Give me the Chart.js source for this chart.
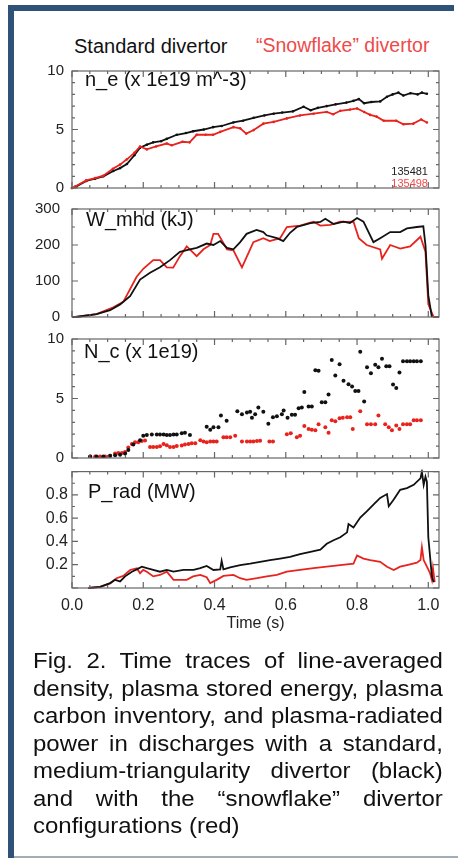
<!DOCTYPE html>
<html>
<head>
<meta charset="utf-8">
<script src="https://cdn.jsdelivr.net/npm/chart.js@4.4.1/dist/chart.umd.min.js"></script>
<style>
  body { margin: 0; background: #fff; width: 458px; height: 858px; overflow: hidden; position: relative;
         font-family: "Liberation Sans", Arial, sans-serif; }
  #barTop { position: absolute; left: 8px; top: 5px; width: 446px; height: 6px; background: #2f5378; }
  #barLeft { position: absolute; left: 8px; top: 5px; width: 6px; height: 853px; background: #2f5378; }
  #barBottom { position: absolute; left: 14px; top: 856px; width: 444px; height: 2px; background: #a3adb8; }
  .txt { position: absolute; white-space: nowrap; line-height: 1; }
  canvas { position: absolute; left: 20px; }
  .cap { position: absolute; left: 33px; width: 376px; font-size: 22px; line-height: 27.5px; color: #111;
         text-align: justify; text-align-last: justify; white-space: nowrap;
         transform: scaleX(1.09); transform-origin: 0 0; }
  .cap.last { text-align-last: left; }
</style>
</head>
<body>
<div id="barTop"></div>
<div id="barLeft"></div>
<div id="barBottom"></div>

<div class="txt" style="left:74px;top:36px;font-size:20px;color:#111">Standard divertor</div>
<div class="txt" style="left:256px;top:36px;font-size:19.5px;color:#ee4a4a">“Snowflake” divertor</div>

<canvas id="ne" width="430" height="151" style="top:54px"></canvas>
<canvas id="wmhd" width="430" height="150" style="top:188px"></canvas>
<canvas id="nc" width="430" height="153" style="top:322px"></canvas>
<canvas id="prad" width="430" height="175" style="top:458px"></canvas>

<div class="txt" style="left:85px;top:69px;font-size:20px;color:#111">n_e (x 1e19 m^-3)</div>
<div class="txt" style="left:86px;top:209px;font-size:20px;color:#111">W_mhd (kJ)</div>
<div class="txt" style="left:84px;top:341px;font-size:20px;color:#111">N_c (x 1e19)</div>
<div class="txt" style="left:88px;top:481px;font-size:20px;color:#111">P_rad (MW)</div>
<div class="txt" style="right:30px;top:166px;font-size:11px;color:#222">135481</div>
<div class="txt" style="right:30px;top:178px;font-size:11px;color:#ee4a4a">135498</div>

<div class="cap" style="top:647px">Fig. 2. Time traces of line-averaged</div>
<div class="cap" style="top:674.5px">density, plasma stored energy, plasma</div>
<div class="cap" style="top:702px">carbon inventory, and plasma-radiated</div>
<div class="cap" style="top:729.5px">power in discharges with a standard,</div>
<div class="cap" style="top:757px">medium-triangularity divertor (black)</div>
<div class="cap" style="top:784.5px">and with the “snowflake” divertor</div>
<div class="cap last" style="top:812px">configurations (red)</div>

<script>
// time axis
const timeTicks = [0, 0.2, 0.4, 0.6, 0.8, 1.0];

// n_e (x 1e19 m^-3)
const neStdTime = [0, 0.01, 0.04, 0.065, 0.088, 0.116, 0.135, 0.154, 0.175, 0.191, 0.21, 0.228, 0.25, 0.266, 0.294, 0.32, 0.34, 0.37, 0.396, 0.42, 0.453, 0.48, 0.51, 0.54, 0.566, 0.59, 0.62, 0.65, 0.67, 0.69, 0.715, 0.74, 0.77, 0.79, 0.805, 0.82, 0.84, 0.865, 0.884, 0.9, 0.916, 0.93, 0.95, 0.97, 0.982, 0.996];
const neStd = [0, 0.1, 0.6, 0.8, 1.0, 1.45, 1.7, 2.05, 2.8, 3.45, 3.7, 3.9, 4.0, 4.2, 4.55, 4.7, 4.85, 5.0, 5.2, 5.3, 5.6, 5.75, 6.0, 6.2, 6.35, 6.45, 6.55, 6.95, 6.65, 6.85, 7.0, 7.15, 7.3, 7.45, 7.6, 7.25, 7.35, 7.4, 7.8, 8.0, 8.15, 7.9, 8.1, 8.0, 8.15, 8.05];
const neSfTime = [0, 0.01, 0.04, 0.065, 0.088, 0.115, 0.135, 0.154, 0.175, 0.191, 0.21, 0.236, 0.266, 0.28, 0.31, 0.33, 0.35, 0.375, 0.396, 0.416, 0.453, 0.472, 0.489, 0.51, 0.537, 0.566, 0.603, 0.64, 0.678, 0.715, 0.733, 0.753, 0.78, 0.8, 0.82, 0.837, 0.855, 0.875, 0.91, 0.93, 0.958, 0.98, 0.996];
const neSf = [0, 0.15, 0.65, 0.85, 1.05, 1.65, 2.0, 2.45, 3.0, 3.55, 3.3, 3.55, 3.8, 3.65, 3.95, 3.9, 4.55, 4.55, 4.55, 4.8, 5.2, 5.1, 4.65, 4.95, 5.5, 5.65, 5.95, 6.2, 6.35, 6.5, 6.3, 6.6, 6.7, 6.8, 6.5, 6.25, 6.1, 5.75, 5.75, 5.45, 5.5, 5.85, 5.6];
const neTicks = [0, 5, 10];

// W_mhd (kJ)
const wStdTime = [0, 0.01, 0.069, 0.107, 0.135, 0.163, 0.191, 0.219, 0.247, 0.275, 0.303, 0.331, 0.35, 0.378, 0.397, 0.416, 0.435, 0.453, 0.472, 0.49, 0.518, 0.537, 0.546, 0.575, 0.593, 0.612, 0.631, 0.669, 0.697, 0.711, 0.734, 0.762, 0.78, 0.8, 0.818, 0.846, 0.865, 0.893, 0.921, 0.94, 0.968, 0.986, 0.992, 1.0, 1.01];
const wStd = [0, 0, 8, 19, 35, 58, 104, 123, 138, 158, 181, 188, 192, 204, 200, 211, 192, 188, 208, 231, 242, 236, 227, 219, 211, 234, 250, 261, 264, 273, 258, 265, 261, 275, 265, 208, 219, 236, 236, 246, 250, 252, 200, 60, 0];
const wSfTime = [0, 0.01, 0.069, 0.116, 0.144, 0.181, 0.2, 0.228, 0.247, 0.266, 0.284, 0.303, 0.322, 0.35, 0.369, 0.388, 0.397, 0.41, 0.435, 0.453, 0.477, 0.509, 0.537, 0.555, 0.584, 0.603, 0.64, 0.678, 0.697, 0.725, 0.753, 0.772, 0.79, 0.805, 0.827, 0.865, 0.87, 0.893, 0.921, 0.949, 0.978, 0.992, 1.0, 1.015, 1.03];
const wSf = [0, 0, 8, 27, 42, 111, 134, 158, 158, 138, 137, 169, 196, 169, 188, 200, 231, 231, 188, 185, 138, 208, 219, 211, 219, 250, 254, 265, 254, 256, 265, 264, 265, 219, 200, 188, 162, 200, 190, 196, 223, 181, 35, 0, 0];
const wTicks = [0, 100, 200, 300];

// N_c (x 1e19), sampled points
const ncStdTime = [0.051, 0.069, 0.088, 0.107, 0.121, 0.135, 0.149, 0.158, 0.172, 0.191, 0.2, 0.21, 0.224, 0.238, 0.247, 0.257, 0.266, 0.275, 0.285, 0.294, 0.308, 0.317, 0.331, 0.378, 0.388, 0.397, 0.411, 0.418, 0.434, 0.464, 0.477, 0.491, 0.5, 0.505, 0.514, 0.523, 0.537, 0.551, 0.564, 0.575, 0.589, 0.594, 0.605, 0.617, 0.626, 0.636, 0.645, 0.652, 0.664, 0.673, 0.683, 0.692, 0.701, 0.711, 0.72, 0.729, 0.739, 0.751, 0.762, 0.776, 0.786, 0.795, 0.804, 0.809, 0.82, 0.828, 0.839, 0.851, 0.86, 0.87, 0.882, 0.891, 0.901, 0.91, 0.919, 0.929, 0.94, 0.949, 0.959, 0.968, 0.979];
const ncStd = [0.13, 0.13, 0.13, 0.18, 0.23, 0.28, 0.38, 0.68, 1.13, 1.5, 1.88, 1.93, 1.98, 1.98, 1.98, 1.98, 1.93, 1.93, 1.98, 1.98, 2.08, 2.13, 1.93, 2.63, 2.38, 2.58, 2.58, 3.58, 3.13, 3.93, 3.68, 3.83, 3.88, 3.38, 3.68, 4.25, 3.88, 2.88, 3.43, 3.5, 3.68, 4.0, 3.38, 3.63, 3.63, 4.18, 4.25, 5.55, 4.33, 4.33, 7.38, 7.33, 4.68, 4.68, 5.33, 8.23, 6.93, 7.88, 6.5, 6.2, 6.0, 5.63, 5.63, 8.93, 4.75, 7.63, 7.13, 7.83, 7.63, 8.33, 7.7, 7.7, 6.18, 5.88, 7.18, 8.13, 8.13, 8.13, 8.13, 8.13, 8.13];
const ncSfTime = [0.051, 0.065, 0.079, 0.093, 0.107, 0.121, 0.13, 0.14, 0.149, 0.158, 0.168, 0.177, 0.186, 0.196, 0.205, 0.219, 0.228, 0.238, 0.247, 0.257, 0.266, 0.275, 0.285, 0.294, 0.308, 0.317, 0.327, 0.336, 0.346, 0.36, 0.369, 0.378, 0.388, 0.397, 0.406, 0.425, 0.434, 0.444, 0.458, 0.477, 0.491, 0.5, 0.509, 0.519, 0.528, 0.554, 0.564, 0.603, 0.614, 0.631, 0.64, 0.652, 0.664, 0.673, 0.683, 0.692, 0.711, 0.72, 0.729, 0.739, 0.751, 0.76, 0.772, 0.781, 0.788, 0.809, 0.828, 0.839, 0.851, 0.86, 0.879, 0.889, 0.898, 0.91, 0.919, 0.929, 0.94, 0.949, 0.959, 0.968, 0.979];
const ncSf = [0.13, 0.13, 0.13, 0.13, 0.18, 0.38, 0.43, 0.43, 0.5, 0.88, 1.18, 1.33, 1.33, 1.43, 1.48, 0.93, 0.93, 0.93, 0.98, 1.18, 1.08, 0.93, 0.93, 1.0, 1.05, 1.13, 1.18, 1.25, 1.25, 1.5, 1.38, 1.33, 1.38, 1.38, 1.38, 1.75, 1.75, 1.75, 1.88, 1.38, 1.38, 1.38, 1.38, 1.43, 1.45, 1.38, 1.38, 2.0, 2.08, 1.75, 1.88, 2.68, 2.43, 2.38, 2.33, 2.83, 2.58, 2.13, 3.18, 3.08, 3.33, 3.38, 3.43, 3.43, 2.43, 3.93, 2.83, 2.83, 2.83, 3.58, 2.83, 2.58, 2.33, 2.73, 2.43, 2.83, 2.83, 2.83, 3.18, 3.18, 3.18];
const ncTicks = [0, 5, 10];

// P_rad (MW)
const pStdTime = [0.046, 0.079, 0.107, 0.121, 0.135, 0.149, 0.168, 0.182, 0.196, 0.21, 0.228, 0.247, 0.266, 0.285, 0.313, 0.341, 0.36, 0.378, 0.397, 0.416, 0.42, 0.425, 0.444, 0.472, 0.5, 0.528, 0.556, 0.584, 0.612, 0.64, 0.669, 0.697, 0.715, 0.734, 0.753, 0.772, 0.776, 0.79, 0.809, 0.828, 0.846, 0.865, 0.884, 0.889, 0.903, 0.921, 0.94, 0.959, 0.978, 0.982, 0.987, 0.992, 0.996, 1.0, 1.01, 1.015];
const pStd = [0, 0.01, 0.042, 0.07, 0.056, 0.1, 0.14, 0.16, 0.183, 0.17, 0.155, 0.14, 0.155, 0.14, 0.155, 0.155, 0.17, 0.19, 0.155, 0.16, 0.233, 0.16, 0.177, 0.197, 0.21, 0.225, 0.24, 0.253, 0.267, 0.29, 0.31, 0.33, 0.38, 0.41, 0.436, 0.478, 0.55, 0.52, 0.605, 0.66, 0.717, 0.774, 0.807, 0.703, 0.76, 0.844, 0.858, 0.886, 0.942, 1.0, 0.886, 0.956, 0.914, 0.436, 0.1, 0.05];
const pSfTime = [0.046, 0.079, 0.107, 0.125, 0.144, 0.163, 0.182, 0.191, 0.2, 0.21, 0.228, 0.247, 0.266, 0.285, 0.322, 0.34, 0.36, 0.378, 0.388, 0.406, 0.425, 0.453, 0.472, 0.49, 0.519, 0.547, 0.575, 0.603, 0.64, 0.678, 0.715, 0.753, 0.79, 0.8, 0.818, 0.837, 0.865, 0.884, 0.903, 0.921, 0.94, 0.968, 0.978, 0.982, 0.987, 0.996, 1.005, 1.01, 1.013, 1.018];
const pSf = [0, 0.01, 0.04, 0.084, 0.104, 0.155, 0.17, 0.127, 0.155, 0.14, 0.1, 0.112, 0.14, 0.07, 0.07, 0.1, 0.112, 0.093, 0.042, 0.07, 0.104, 0.112, 0.084, 0.07, 0.084, 0.1, 0.112, 0.14, 0.155, 0.17, 0.183, 0.197, 0.21, 0.28, 0.253, 0.24, 0.225, 0.183, 0.155, 0.183, 0.197, 0.217, 0.24, 0.35, 0.24, 0.183, 0.127, 0.07, 0.17, 0.05];
const pTicks = [0.2, 0.4, 0.6, 0.8];

const black = '#111111';
const red = '#e8231e';

function series(times, values) {
    return times.map((t, i) => ({ x: t, y: values[i] }));
}

// boxed frame with inward ticks on all four sides
const frameTicks = {
    id: 'frameTicks',
    afterDatasetsDraw(chart, args, opts) {
        const { ctx, chartArea: a, scales } = chart;
        ctx.save();
        ctx.strokeStyle = '#666';
        ctx.lineWidth = 1.2;
        ctx.strokeRect(a.left, a.top, a.right - a.left, a.bottom - a.top);
        ctx.beginPath();
        for (let i = 0; i * 0.05 <= 1.03; i++) {
            const px = scales.x.getPixelForValue(i * 0.05);
            const len = i % 4 === 0 ? 6 : 3;
            ctx.moveTo(px, a.bottom); ctx.lineTo(px, a.bottom - len);
            ctx.moveTo(px, a.top); ctx.lineTo(px, a.top + len);
        }
        const n = Math.round((scales.y.max - scales.y.min) / opts.minor);
        const every = Math.round(opts.major / opts.minor);
        for (let i = 0; i <= n; i++) {
            const py = scales.y.getPixelForValue(scales.y.min + i * opts.minor);
            const len = i % every === 0 ? 6 : 3;
            ctx.moveTo(a.left, py); ctx.lineTo(a.left + len, py);
            ctx.moveTo(a.right, py); ctx.lineTo(a.right - len, py);
        }
        ctx.stroke();
        ctx.restore();
    }
};

function makePanel(id, datasets, yMin, yMax, yTicks, p) {
    const showTime = !!p.showTime;
    return new Chart(document.getElementById(id), {
        type: 'line',
        data: { datasets: datasets },
        options: {
            responsive: false,
            animation: false,
            devicePixelRatio: 1,
            layout: { padding: { top: 10, bottom: showTime ? 0 : 10, left: 0, right: 11 } },
            plugins: {
                legend: { display: false },
                tooltip: { enabled: false },
                frameTicks: { minor: p.minor, major: p.major }
            },
            scales: {
                x: {
                    type: 'linear',
                    min: 0,
                    max: 1.03,
                    display: showTime,
                    grid: { display: false, drawTicks: false },
                    border: { display: false },
                    afterBuildTicks: s => { s.ticks = timeTicks.map(v => ({ value: v })); },
                    afterFit: s => { if (showTime) s.height = 45; },
                    ticks: {
                        padding: 8,
                        color: '#222',
                        font: { family: 'Liberation Sans', size: 16 },
                        callback: v => Number(v).toFixed(1)
                    },
                    title: {
                        display: true,
                        text: 'Time (s)',
                        color: '#222',
                        padding: { top: 0, bottom: 0 },
                        font: { family: 'Liberation Sans', size: 16 }
                    }
                },
                y: {
                    min: yMin,
                    max: yMax,
                    grid: { display: false, drawTicks: false },
                    border: { display: false },
                    afterBuildTicks: s => { s.ticks = yTicks.map(v => ({ value: v })); },
                    afterFit: s => { s.width = 52; },
                    ticks: {
                        padding: p.tickPad,
                        color: '#222',
                        font: { family: 'Liberation Sans', size: p.fontSize },
                        callback: p.fmt || (v => v)
                    }
                }
            }
        },
        plugins: [frameTicks]
    });
}

function lineSet(times, values, color, dots) {
    return {
        data: series(times, values),
        borderColor: color,
        backgroundColor: color,
        borderWidth: 1.8,
        pointRadius: dots ? 1.3 : 0,
        pointBorderWidth: 0,
        tension: 0,
        clip: 2
    };
}

function dotSet(times, values, color) {
    return {
        data: series(times, values),
        showLine: false,
        borderColor: color,
        backgroundColor: color,
        pointRadius: 2,
        pointBorderWidth: 0
    };
}

makePanel('ne', [lineSet(neSfTime, neSf, red, true), lineSet(neStdTime, neStd, black, true)],
    0, 10, neTicks, { minor: 1, major: 5, fontSize: 15, tickPad: 8 });
makePanel('wmhd', [lineSet(wStdTime, wStd, black), lineSet(wSfTime, wSf, red)],
    0, 300, wTicks, { minor: 50, major: 100, fontSize: 15, tickPad: 12 });
makePanel('nc', [dotSet(ncStdTime, ncStd, black), dotSet(ncSfTime, ncSf, red)],
    0, 10, ncTicks, { minor: 1, major: 5, fontSize: 15, tickPad: 8 });
makePanel('prad', [lineSet(pStdTime, pStd, black), lineSet(pSfTime, pSf, red)],
    0, 1.0, pTicks, { minor: 0.1, major: 0.2, fontSize: 16, tickPad: 4, showTime: true,
        fmt: v => Number(v).toFixed(1) });
</script>
</body>
</html>
